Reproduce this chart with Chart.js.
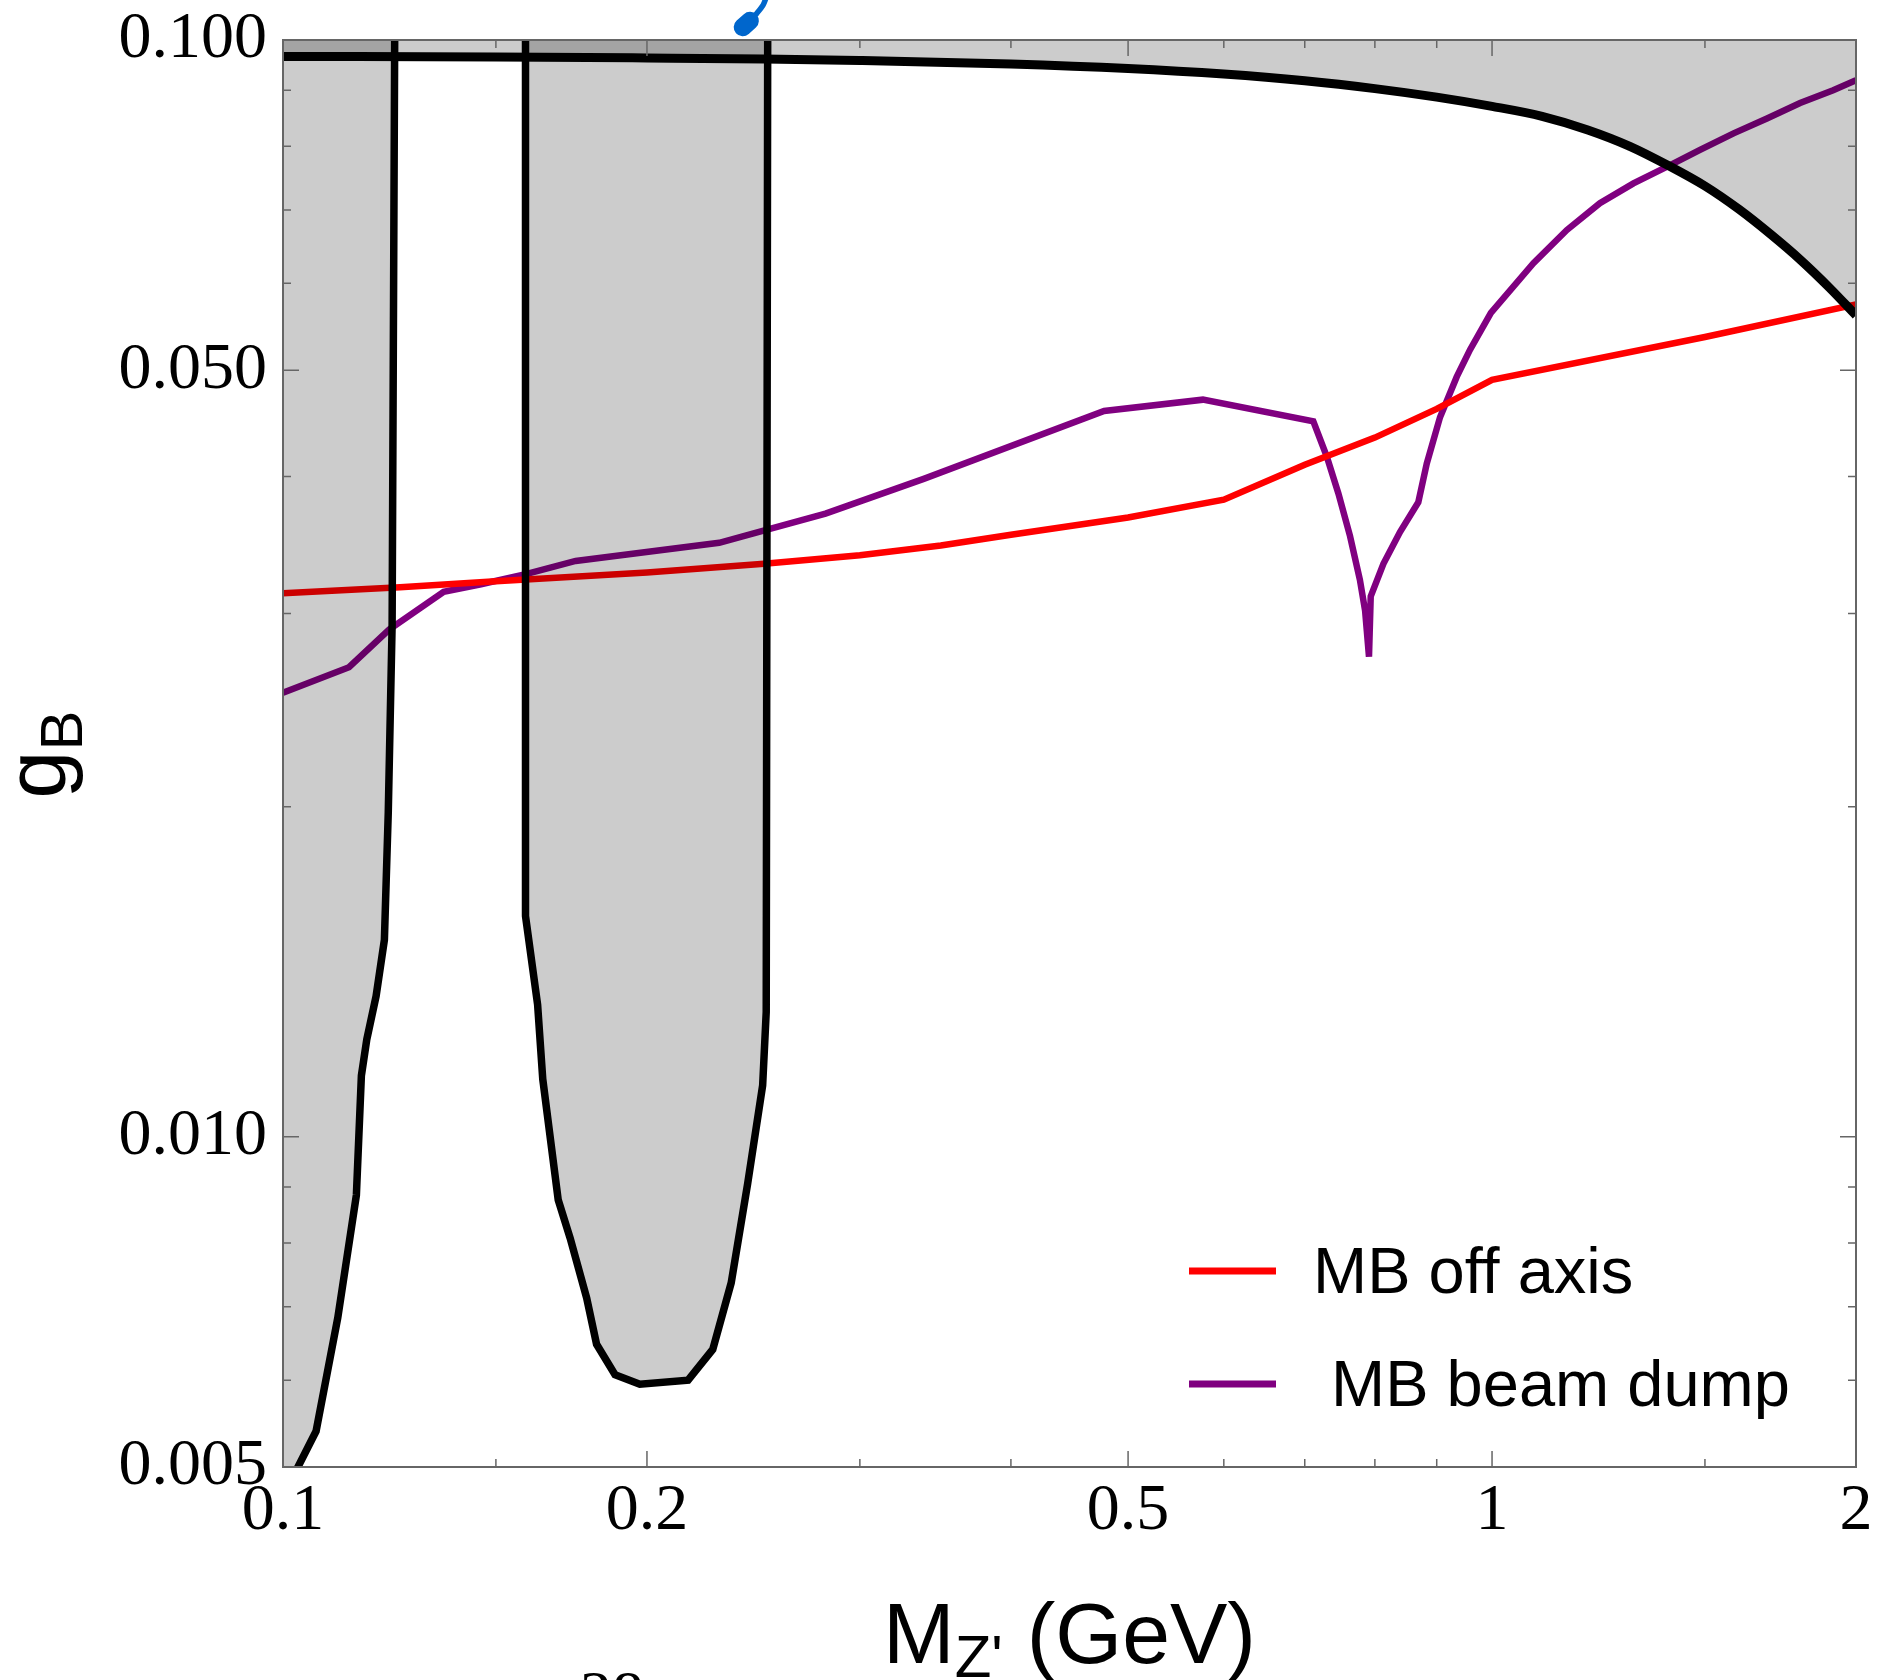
<!DOCTYPE html>
<html>
<head>
<meta charset="utf-8">
<script src="https://cdn.jsdelivr.net/npm/chart.js@4.4.1/dist/chart.umd.min.js"></script>
<style>
  html, body { margin: 0; padding: 0; background: #fff; overflow: hidden; }
  canvas { display: block; }
</style>
</head>
<body>
<canvas id="chart" width="1886" height="1680"></canvas>
<script>
// axis ticks (M in GeV, g_B)
const xMajor = [0.1, 0.2, 0.5, 1, 2];
const xMinor = [0.15, 0.3, 0.4, 0.6, 0.7, 0.8, 0.9, 1.5];
const xTickLabels = ['0.1', '0.2', '0.5', '1', '2'];
const yMajor = [0.005, 0.01, 0.05, 0.1];
const yMinor = [0.006, 0.007, 0.008, 0.009, 0.02, 0.03, 0.04, 0.06, 0.07, 0.08, 0.09];
const yTickLabels = ['0.005', '0.010', '0.050', '0.100'];

// MB off axis (red)
const offAxisM = [0.1, 0.125, 0.15, 0.2, 0.25, 0.3, 0.35, 0.4, 0.5, 0.6, 0.7, 0.8, 0.9, 1.0, 1.5, 2.0];
const offAxisG = [0.0313, 0.0317, 0.0321, 0.0327, 0.0333, 0.0339, 0.0346, 0.0354, 0.0367, 0.0381, 0.0410, 0.0434, 0.0461, 0.0490, 0.0536, 0.0574];

// MB beam dump (purple)
const dumpM = [0.1, 0.1134, 0.1224, 0.1358, 0.1458, 0.1591, 0.1746, 0.2295, 0.2519, 0.281, 0.3388, 0.4777, 0.5766,
  0.7115, 0.73, 0.7463, 0.763, 0.7775, 0.7852, 0.7911, 0.7937, 0.8131, 0.8392, 0.869, 0.8831, 0.9057, 0.9349, 0.959,
  0.9978, 1.082, 1.153, 1.228, 1.309, 1.404, 1.486, 1.584, 1.688, 1.798, 1.915, 2.0];
const dumpG = [0.0254, 0.0268, 0.0290, 0.0314, 0.0319, 0.0326, 0.0335, 0.0348, 0.0358, 0.0370, 0.0398, 0.0459, 0.0470,
  0.0449, 0.0417, 0.0386, 0.0353, 0.0322, 0.0302, 0.0274, 0.0311, 0.0333, 0.0356, 0.0379, 0.0411, 0.0453, 0.0493, 0.0522,
  0.0564, 0.0626, 0.0671, 0.0710, 0.0740, 0.0769, 0.0794, 0.0822, 0.0848, 0.0876, 0.0900, 0.0919];

// excluded regions (black boundaries, gray shading above them)
const topM = [0.1, 0.15, 0.2, 0.25, 0.3, 0.4, 0.5, 0.6, 0.7, 0.8, 0.9, 1.0, 1.1, 1.2, 1.3, 1.4, 1.5, 1.6, 1.7, 1.8, 1.9, 2.0];
const topG = [0.0966, 0.0965, 0.0963, 0.0961, 0.0958, 0.0951, 0.0942, 0.0931, 0.0918, 0.0903, 0.0887, 0.0870, 0.0852,
  0.0828, 0.0800, 0.0768, 0.0736, 0.0701, 0.0665, 0.0630, 0.0595, 0.0561];

const band1M = [0.1, 0.1065, 0.1110, 0.1150, 0.1161, 0.1173, 0.1194, 0.1213, 0.1222, 0.1231, 0.1237];
const band1G = [0.00470, 0.00539, 0.00684, 0.00885, 0.01137, 0.01227, 0.01344, 0.01512, 0.01977, 0.0293, 0.1];

const band2M = [0.1587, 0.1587, 0.1624, 0.1640, 0.1689, 0.1728, 0.1783, 0.1817, 0.1882, 0.1973, 0.2163, 0.2267,
  0.2348, 0.2423, 0.2493, 0.2510, 0.2517];
const band2G = [0.1, 0.0159, 0.0132, 0.01129, 0.00876, 0.00808, 0.00713, 0.00647, 0.00607, 0.00595, 0.00600, 0.00640,
  0.00736, 0.00907, 0.01114, 0.0130, 0.1];

// stray blue stroke poking in above the frame (tail + drop)
const blueM = [0.2509, 0.2495, 0.2466, 0.2433];
const blueG = [0.1092, 0.1076, 0.1058, 0.1041];
const dropM = [0.2433, 0.2400];
const dropG = [0.1041, 0.1027];

const zip = (xs, ys) => xs.map((x, i) => ({ x: x, y: ys[i] }));
const gray = 'rgba(0, 0, 0, 0.2)';

// ticks drawn inward on all four sides, like a Mathematica frame
const frameTicks = {
  id: 'frameTicks',
  afterDatasetsDraw(chart) {
    const { ctx, chartArea: a, scales: { x, y } } = chart;
    ctx.save();
    ctx.strokeStyle = '#666';
    ctx.lineWidth = 1.5;
    ctx.beginPath();
    const xt = (vals, len) => vals.forEach(v => {
      const px = x.getPixelForValue(v);
      ctx.moveTo(px, a.bottom); ctx.lineTo(px, a.bottom - len);
      ctx.moveTo(px, a.top); ctx.lineTo(px, a.top + len);
    });
    const yt = (vals, len) => vals.forEach(v => {
      const py = y.getPixelForValue(v);
      ctx.moveTo(a.left, py); ctx.lineTo(a.left + len, py);
      ctx.moveTo(a.right, py); ctx.lineTo(a.right - len, py);
    });
    xt(xMajor, 16); xt(xMinor, 8);
    yt(yMajor, 16); yt(yMinor, 8);
    ctx.stroke();
    ctx.lineWidth = 2;
    ctx.strokeRect(a.left, a.top, a.right - a.left, a.bottom - a.top);
    ctx.restore();
  }
};

// axis titles with subscripts, the inset legend and the cut-off text at the bottom
const labelsPlugin = {
  id: 'labels',
  afterDraw(chart) {
    const { ctx, chartArea: a } = chart;
    const big = '86px "Liberation Sans"';
    const small = '60px "Liberation Sans"';
    ctx.save();
    ctx.fillStyle = '#000';
    ctx.textBaseline = 'alphabetic';
    ctx.textAlign = 'left';

    // x title: M_Z' (GeV)
    const parts = [['M', big, 0], ["Z'", small, 14], [' (GeV)', big, 0]];
    let w = 0;
    parts.forEach(p => { ctx.font = p[1]; w += ctx.measureText(p[0]).width; });
    let cx = (a.left + a.right) / 2 - w / 2;
    const by = a.bottom + 196;
    parts.forEach(p => {
      ctx.font = p[1];
      ctx.fillText(p[0], cx, by + p[2]);
      cx += ctx.measureText(p[0]).width;
    });

    // y title: g_B
    ctx.save();
    ctx.translate(a.left - 218, (a.top + a.bottom) / 2 + 1);
    ctx.rotate(-Math.PI / 2);
    ctx.font = big;
    const gw = ctx.measureText('g').width;
    ctx.font = small;
    const bw = ctx.measureText('B').width;
    ctx.font = big;
    ctx.fillText('g', -(gw + bw) / 2, 0);
    ctx.font = small;
    ctx.fillText('B', -(gw + bw) / 2 + gw, 17);
    ctx.restore();

    // legend
    ctx.font = '65px "Liberation Sans"';
    [3, 4].forEach((di, row) => {
      const ds = chart.data.datasets[di];
      const ly = a.bottom - 196 + row * 113;
      ctx.strokeStyle = ds.borderColor;
      ctx.lineWidth = 7;
      ctx.beginPath();
      ctx.moveTo(a.right - 667, ly);
      ctx.lineTo(a.right - 580, ly);
      ctx.stroke();
      ctx.fillText(ds.label, a.right - 543, ly + 22);
    });

    // text from the next figure, mostly outside the picture
    ctx.font = '64px "Liberation Serif"';
    ctx.fillText('28', a.left + 297, a.bottom + 248);
    ctx.restore();
  }
};

new Chart(document.getElementById('chart').getContext('2d'), {
  type: 'line',
  data: {
    datasets: [
      { label: 'top', data: zip(topM, topG), borderColor: '#000', borderWidth: 9, backgroundColor: gray,
        fill: 'end', cubicInterpolationMode: 'monotone', pointRadius: 0, order: 0 },
      { label: 'band1', data: zip(band1M, band1G), borderColor: '#000', borderWidth: 7.5, backgroundColor: gray,
        fill: 'end', tension: 0, pointRadius: 0, order: 0 },
      { label: 'band2', data: zip(band2M, band2G), borderColor: '#000', borderWidth: 7.5, backgroundColor: gray,
        fill: 'end', tension: 0, pointRadius: 0, order: 0 },
      { label: 'MB off axis', data: zip(offAxisM, offAxisG), borderColor: '#ff0000', borderWidth: 6.5,
        fill: false, tension: 0, pointRadius: 0, order: 1 },
      { label: ' MB beam dump', data: zip(dumpM, dumpG), borderColor: '#800080', borderWidth: 6.5,
        fill: false, tension: 0, pointRadius: 0, order: 1 },
      { label: 'blue', data: zip(blueM, blueG), borderColor: '#0066cc', borderWidth: 5.5, fill: false,
        tension: 0.3, pointRadius: 0, clip: false, order: 2 },
      { label: 'drop', data: zip(dropM, dropG), borderColor: '#0066cc', borderWidth: 18, borderCapStyle: 'round',
        fill: false, pointRadius: 0, clip: false, order: 2 }
    ]
  },
  options: {
    responsive: false,
    animation: false,
    layout: { padding: { left: 0, top: 40, right: 30, bottom: 0 } },
    plugins: { legend: { display: false }, tooltip: { enabled: false } },
    scales: {
      x: {
        type: 'logarithmic', min: 0.1, max: 2,
        grid: { display: false, drawTicks: false },
        border: { display: false },
        afterBuildTicks: s => { s.ticks = xMajor.map(v => ({ value: v })); },
        afterFit: s => { s.height = 213; },
        ticks: {
          autoSkip: false, maxRotation: 0, minRotation: 0, padding: 5, color: '#000',
          font: { family: 'Liberation Serif', size: 66 },
          callback: (v, i) => xTickLabels[i]
        }
      },
      y: {
        type: 'logarithmic', min: 0.005, max: 0.1,
        grid: { display: false, drawTicks: false },
        border: { display: false },
        afterBuildTicks: s => { s.ticks = yMajor.map(v => ({ value: v })); },
        afterFit: s => { s.width = 283; },
        ticks: {
          autoSkip: false, padding: 16, color: '#000',
          font: { family: 'Liberation Serif', size: 66, lineHeight: 0.7 },
          callback: (v, i) => yTickLabels[i]
        }
      }
    }
  },
  plugins: [frameTicks, labelsPlugin]
});
</script>
</body>
</html>
